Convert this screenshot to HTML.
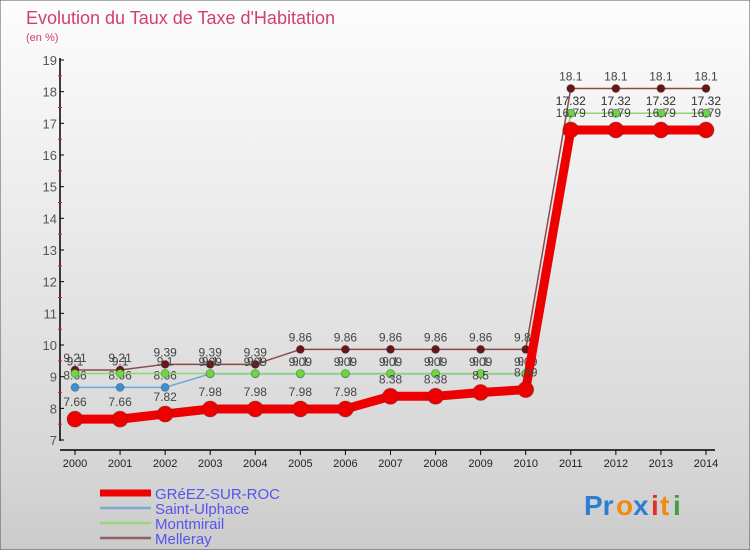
<!DOCTYPE html>
<html><head><meta charset="utf-8"><style>
body{margin:0;width:750px;height:550px;overflow:hidden;font-family:"Liberation Sans",sans-serif}
svg{display:block}
</style></head><body>
<svg id="c" width="750" height="550" xmlns="http://www.w3.org/2000/svg">
<defs><linearGradient id="bg" x1="0" y1="0" x2="0" y2="1">
<stop offset="0" stop-color="#fdfdfd"/><stop offset="0.85" stop-color="#d6d6d6"/><stop offset="1" stop-color="#cbcbcb"/></linearGradient></defs>
<rect x="0" y="0" width="750" height="550" fill="url(#bg)" stroke="#555" stroke-width="1"/>
<text x="26" y="24" font-size="18" fill="#d04070">Evolution du Taux de Taxe d'Habitation</text>
<text x="26" y="41" font-size="11" fill="#d04070">(en %)</text>
<g id="axes"></g><g id="series"></g><g id="legend"></g>
<g font-size="28" font-weight="bold">
<text x="584" y="515" fill="#2a7fd4">Pr</text><text x="616" y="515" fill="#f08a10">o</text>
<text x="633" y="515" fill="#2a7fd4">x</text><text x="651" y="515" fill="#e03020">i</text><text x="660" y="515" fill="#f08a10">t</text><text x="673" y="515" fill="#40a040">i</text>
</g>
</svg>
<script>
const years=[2000,2001,2002,2003,2004,2005,2006,2007,2008,2009,2010,2011,2012,2013,2014];
const greez=[7.66,7.66,7.82,7.98,7.98,7.98,7.98,8.38,8.38,8.5,8.59,16.79,16.79,16.79,16.79];
const ulphace=[8.66,8.66,8.66,9.09,9.09,9.09,9.09,9.09,9.09,9.09,9.09,17.32,17.32,17.32,17.32];
const montmirail=[9.1,9.1,9.1,9.1,9.1,9.1,9.1,9.1,9.1,9.1,9.1,17.32,17.32,17.32,17.32];
const melleray=[9.21,9.21,9.39,9.39,9.39,9.86,9.86,9.86,9.86,9.86,9.86,18.1,18.1,18.1,18.1];
const yTicks=[7,8,9,10,11,12,13,14,15,16,17,18,19];
const NS="http://www.w3.org/2000/svg";
const X=i=>75+i*(706-75)/14;
const Y=v=>440-(v-7)*(380/12);
function mk(tag,attrs,parent){const e=document.createElementNS(NS,tag);for(const k in attrs)e.setAttribute(k,attrs[k]);parent.appendChild(e);return e;}
const axes=document.getElementById('axes');
let a=mk('line',{x1:60,y1:58,x2:60,y2:441,stroke:'#000','stroke-width':1.5},axes);


a=mk('line',{x1:60,y1:450,x2:715,y2:450,stroke:'#000','stroke-width':1.5},axes);


yTicks.forEach(t=>{
 mk('line',{x1:60,y1:Y(t),x2:64,y2:Y(t),stroke:'#000'},axes);
 if(t<19)mk('line',{x1:58,y1:Y(t+0.5),x2:62,y2:Y(t+0.5),stroke:'#e02020'},axes);
 const tx=mk('text',{x:57,y:Y(t)+5,'font-size':13,'text-anchor':'end',fill:'#555'},axes);tx.textContent=t;
 
 
});
years.forEach((yr,i)=>{
 mk('line',{x1:X(i),y1:450,x2:X(i),y2:455,stroke:'#000'},axes);
 const tx=mk('text',{x:X(i),y:467,'font-size':11,'text-anchor':'middle',fill:'#222'},axes);tx.textContent=yr;
 
 
});
const sg=document.getElementById('series');
function series(vals,color,dot,w,r,name,lblOff){
 const g=mk('g',{},sg);
 
 
 const pl=mk('polyline',{points:vals.map((v,i)=>X(i)+','+Y(v)).join(' '),fill:'none',stroke:color,'stroke-width':w,'stroke-linejoin':'round'},g);
 
 
 vals.forEach((v,i)=>{
  const c=mk('circle',{cx:X(i),cy:Y(v),r:r,fill:dot,stroke:'#333','stroke-opacity':0.3},g);
  
  
  const t=mk('text',{x:X(i),y:Y(v)+lblOff,'font-size':12,'text-anchor':'middle',fill:'#444'},g);t.textContent=v;
  
  
 });
}
series(melleray,'#8b4a4a','#6a1515',1.5,4,'melleray',-8);
series(ulphace,'#6aa8d8','#3d8fd0',1.5,4,'saint-ulphace',-8);
series(montmirail,'#8fd870','#6cd840',1.5,4,'montmirail',-8);
series(greez,'#ee0000','#ee0000',9,8,'greez-sur-roc',-13);
const lg=document.getElementById('legend');
const items=[['GRéEZ-SUR-ROC','#ee0000',7],['Saint-Ulphace','#7aaad0',2.5],['Montmirail','#99d77a',2.5],['Melleray','#906060',2.5]];
items.forEach((it,i)=>{
 const y=493+i*15;
 const l=mk('line',{x1:100,y1:y,x2:151,y2:y,stroke:it[1],'stroke-width':it[2]},lg);
 
 
 const t=mk('text',{x:155,y:y+6,'font-size':15,fill:'#5555ee'},lg);t.textContent=it[0];
 
 
});
</script>
</body></html>
